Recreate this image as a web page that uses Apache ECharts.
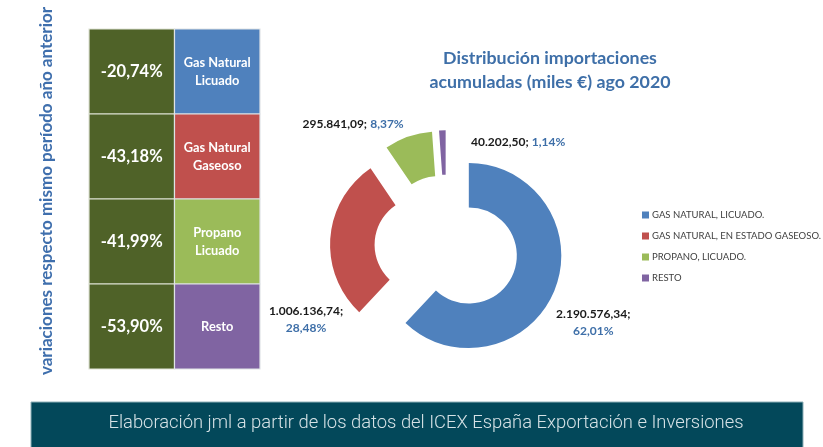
<!DOCTYPE html>
<html>
<head>
<meta charset="utf-8">
<script src="https://cdn.jsdelivr.net/npm/echarts@6/dist/echarts.min.js"></script>
<style>html,body{margin:0;padding:0;background:#fff;}#c{width:823px;height:447px;}</style>
</head>
<body>
<div id="c"></div>
<script>
const categories = ['GAS NATURAL, LICUADO.', 'GAS NATURAL, EN ESTADO GASEOSO.', 'PROPANO, LICUADO.', 'RESTO'];
const importValues = [2190576.34, 1006136.74, 295841.09, 40202.50];
const tableLabels = ['Gas Natural\nLicuado', 'Gas Natural\nGaseoso', 'Propano\nLicuado', 'Resto'];
const variations = [-20.74, -43.18, -41.99, -53.90];
const colors = ['#4f81bd', '#c0504d', '#9bbb59', '#8064a2'];
const titleText = 'Distribución importaciones\nacumuladas (miles €) ago 2020';
const sideText = 'variaciones respecto mismo período año anterior';
const footerText = 'Elaboración jml a partir de los datos del ICEX España Exportación e Inversiones';

function esNum(v, d) {
  const s = v.toFixed(d);
  const parts = s.split('.');
  const intPart = parts[0].replace(/\B(?=(\d{3})+(?!\d))/g, '.');
  return parts.length > 1 ? intPart + ',' + parts[1] : intPart;
}

const chart = echarts.init(document.getElementById('c'));
const FONT = 'Lato, "Open Sans", sans-serif';
// label anchor points (text placement only, before the slice explode offset)
const labelAnchors = [[571, 314], [330, 322], [361, 147], [519, 166]];

const option = {
  animation: false,
  textStyle: { fontFamily: FONT },
  title: {
    text: titleText,
    left: 545, top: 42, textAlign: 'center',
    textStyle: { color: '#3e6fa8', fontSize: 17.8, fontWeight: 'bold', lineHeight: 23.5, fontFamily: FONT }
  },
  legend: {
    orient: 'vertical', left: 637, top: 205,
    itemWidth: 7, itemHeight: 7, itemGap: 11, icon: 'rect',
    textStyle: { fontSize: 9.5, color: '#404040', fontFamily: FONT, padding: [0, 0, 0, -2] },
    data: categories
  },
  grid: { left: 89, top: 29, width: 171, height: 340 },
  xAxis: { type: 'category', data: ['var', 'name'], show: false },
  yAxis: { type: 'category', data: tableLabels, inverse: true, show: false },
  graphic: [
    {
      type: 'text', x: 47, y: 191, rotation: Math.PI / 2,
      style: { text: sideText, fill: '#3f6fad', font: 'bold 17px ' + FONT, align: 'center', verticalAlign: 'middle' }
    },
    {
      type: 'rect', shape: { x: 31, y: 402, width: 772, height: 50 },
      style: { fill: '#03485a', stroke: '#8fb0b8', lineWidth: 1 }
    },
    {
      type: 'text', x: 426, y: 423,
      style: { text: footerText, fill: '#d6e2e6', font: '300 18.4px Roboto', align: 'center', verticalAlign: 'middle' }
    }
  ],
  series: [
    {
      type: 'custom',
      data: variations.map((v, i) => [0, i, v]),
      renderItem: function (params, api) {
        const p = api.coord([api.value(0), api.value(1)]);
        const s = api.size([1, 1]);
        return {
          type: 'group', children: [
            { type: 'rect', shape: { x: p[0] - s[0] / 2, y: p[1] - s[1] / 2, width: s[0], height: s[1] },
              style: { fill: '#4f6228', stroke: '#dfe3d6', lineWidth: 1.2 } },
            { type: 'text', style: { text: esNum(api.value(2), 2) + '%', x: p[0], y: p[1], align: 'center', verticalAlign: 'middle',
              fill: '#ffffff', font: 'bold 16.5px ' + FONT } }
          ]
        };
      }
    },
    {
      type: 'custom',
      data: tableLabels.map((t, i) => [1, i]),
      renderItem: function (params, api) {
        const p = api.coord([api.value(0), api.value(1)]);
        const s = api.size([1, 1]);
        const i = params.dataIndex;
        return {
          type: 'group', children: [
            { type: 'rect', shape: { x: p[0] - s[0] / 2, y: p[1] - s[1] / 2, width: s[0], height: s[1] },
              style: { fill: colors[i], stroke: '#dfe3e6', lineWidth: 1.2 } },
            { type: 'text', style: { text: tableLabels[i], x: p[0], y: p[1], align: 'center', verticalAlign: 'middle',
              fill: '#ffffff', font: 'bold 12.8px ' + FONT, lineHeight: 18 } }
          ]
        };
      }
    },
    {
      type: 'pie',
      center: [446.5, 246.7],
      radius: [48, 92.5],
      startAngle: 90,
      clockwise: true,
      selectedMode: 'multiple',
      selectedOffset: 24,
      percentPrecision: 2,
      avoidLabelOverlap: false,
      emphasis: { disabled: true },
      label: {
        show: true, position: 'outside',
        formatter: function (p) {
          const sep = (p.dataIndex === 0 || p.dataIndex === 1) ? '\n' : ' ';
          return '{v|' + esNum(p.value, 2) + ';}' + sep + '{p|' + esNum(p.percent, 2) + '%}';
        },
        rich: {
          v: { color: '#1a1a1a', fontWeight: 'bold', fontSize: 12, fontFamily: FONT, lineHeight: 17, align: 'center' },
          p: { color: '#3e6fa8', fontWeight: 'bold', fontSize: 12, fontFamily: FONT, lineHeight: 17, align: 'center' }
        }
      },
      labelLine: { show: false, length: 10, length2: 0 },
      labelLayout: function (params) {
        const a = labelAnchors[params.dataIndex];
        const r = params.labelRect;
        return {
          dx: a[0] - (r.x + r.width / 2),
          dy: a[1] - (r.y + r.height / 2),
          hideOverlap: false
        };
      },
      data: importValues.map((v, i) => ({
        name: categories[i], value: v, selected: true,
        itemStyle: { color: colors[i] }
      }))
    }
  ]
};
chart.setOption(option);
</script>
</body>
</html>
